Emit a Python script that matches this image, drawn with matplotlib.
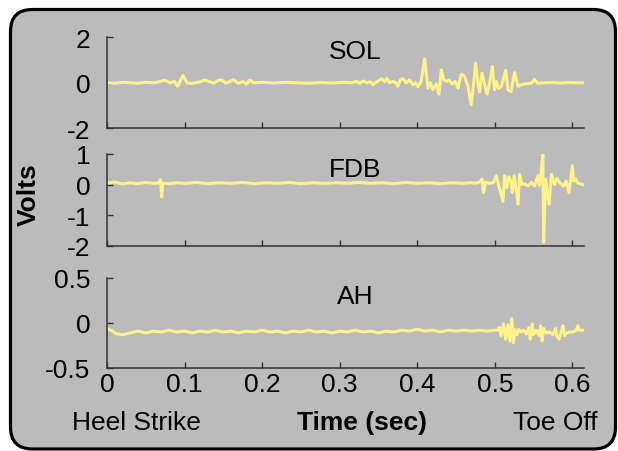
import matplotlib
matplotlib.use("Agg")
import matplotlib.pyplot as plt
from matplotlib.patches import FancyBboxPatch
from matplotlib.transforms import IdentityTransform

plt.rcParams['font.family'] = ['Liberation Sans', 'DejaVu Sans']

# ---------------- data ----------------
sol_time = [0, 0.01, 0.02, 0.03, 0.04, 0.05, 0.06, 0.068, 0.0745, 0.081,
            0.087, 0.091, 0.098, 0.103, 0.109, 0.119, 0.126, 0.1325, 0.138, 0.143,
            0.148, 0.153, 0.158, 0.163, 0.169, 0.175, 0.180, 0.184, 0.189, 0.2,
            0.215, 0.23, 0.245, 0.26, 0.275, 0.29, 0.305, 0.315, 0.322, 0.326,
            0.33, 0.335, 0.34, 0.343, 0.348, 0.354, 0.358, 0.361, 0.364, 0.368,
            0.372, 0.375, 0.3785, 0.3816, 0.386, 0.390, 0.3945, 0.398, 0.401, 0.405,
            0.4095, 0.4138, 0.417, 0.420, 0.4246, 0.428, 0.431, 0.434, 0.4375, 0.441,
            0.445, 0.449, 0.4525, 0.4568, 0.461, 0.4654, 0.4697, 0.4725, 0.4753, 0.4782,
            0.4804, 0.4835, 0.487, 0.490, 0.4933, 0.4968, 0.4997, 0.502, 0.505, 0.5084,
            0.514, 0.517, 0.521, 0.5255, 0.530, 0.534, 0.538, 0.545, 0.548, 0.551,
            0.555, 0.565, 0.575, 0.585, 0.595, 0.605, 0.615]
sol_volts = [0.0, -0.02, 0.02, 0.0, -0.02, 0.02, 0.0, 0.05, 0.12, 0.0,
             0.06, -0.15, 0.32, 0.0, -0.03, 0.03, 0.12, 0.05, -0.02, 0.10,
             0.12, -0.02, 0.05, 0.14, -0.02, 0.05, -0.06, 0.12, 0.0, 0.02,
             -0.01, 0.02, 0.0, -0.02, 0.01, -0.01, 0.02, 0.0, 0.06, -0.02,
             0.08, 0.0, 0.04, -0.08, 0.05, 0.18, 0.05, 0.20, 0.0, 0.06,
             0.02, -0.15, 0.15, 0.18, 0.0, 0.13, -0.09, 0.0, -0.16, 0.06,
             1.05, -0.23, 0.0, -0.30, -0.05, -0.50, 0.57, 0.15, 0.06, 0.12,
             -0.05, 0.06, -0.23, 0.38, 0.28, -0.16, -0.97, -0.09, 0.85, 0.0,
             -0.40, 0.43, -0.09, -0.50, 0.0, 0.72, -0.30, 0.06, -0.23, -0.16,
             0.55, -0.31, -0.38, 0.45, -0.16, -0.09, -0.05, -0.03, 0.0, 0.15,
             -0.02, 0.0, 0.01, -0.01, 0.01, 0.0, 0.0]

fdb_time = [0, 0.01, 0.02, 0.03, 0.04, 0.05, 0.06, 0.066, 0.069, 0.0705,
            0.072, 0.08, 0.09, 0.10, 0.115, 0.13, 0.145, 0.16, 0.175, 0.19,
            0.205, 0.22, 0.235, 0.25, 0.265, 0.28, 0.295, 0.31, 0.325, 0.34,
            0.355, 0.37, 0.385, 0.40, 0.415, 0.43, 0.445, 0.46, 0.4675, 0.475,
            0.480, 0.4835, 0.4855, 0.488, 0.493, 0.498, 0.502, 0.505, 0.5105, 0.5126,
            0.5155, 0.518, 0.521, 0.5225, 0.525, 0.530, 0.532, 0.535, 0.5384, 0.5427,
            0.547, 0.5513, 0.5556, 0.5577, 0.560, 0.562, 0.563, 0.5655, 0.570, 0.573,
            0.577, 0.580, 0.5836, 0.5887, 0.592, 0.5955, 0.600, 0.6015, 0.604, 0.607,
            0.6135]
fdb_volts = [0.05, 0.08, 0.02, 0.06, 0.03, 0.07, 0.04, 0.05, 0.16, -0.40,
             0.05, 0.03, 0.06, 0.04, 0.07, 0.03, 0.06, 0.04, 0.07, 0.03,
             0.06, 0.04, 0.07, 0.03, 0.06, 0.04, 0.06, 0.04, 0.07, 0.04,
             0.06, 0.03, 0.07, 0.04, 0.06, 0.03, 0.06, 0.04, 0.06, 0.05,
             0.07, 0.18, -0.26, 0.08, 0.04, 0.06, 0.29, -0.03, -0.55, 0.29,
             -0.10, 0.25, 0.10, -0.26, 0.29, -0.64, 0.34, 0.0, 0.02, -0.05,
             0.07, -0.05, 0.29, -0.03, 0.51, 1.00, -1.89, 0.18, -0.64, 0.34,
             0.0, 0.20, 0.07, -0.05, 0.12, -0.26, 0.62, 0.12, 0.20, 0.05,
             0.0]

ah_time = [0, 0.005, 0.012, 0.02, 0.03, 0.04, 0.05, 0.06, 0.07, 0.08,
           0.09, 0.10, 0.11, 0.12, 0.13, 0.14, 0.15, 0.16, 0.17, 0.18,
           0.19, 0.20, 0.21, 0.22, 0.23, 0.24, 0.25, 0.26, 0.27, 0.28,
           0.29, 0.30, 0.31, 0.32, 0.33, 0.34, 0.35, 0.36, 0.37, 0.38,
           0.39, 0.40, 0.41, 0.42, 0.43, 0.44, 0.45, 0.46, 0.47, 0.48,
           0.49, 0.50, 0.504, 0.506, 0.508, 0.511, 0.514, 0.517, 0.5195, 0.522,
           0.524, 0.526, 0.5285, 0.531, 0.534, 0.537, 0.5406, 0.544, 0.5455, 0.5483,
           0.5497, 0.5535, 0.557, 0.559, 0.561, 0.563, 0.5664, 0.5706, 0.575, 0.5784,
           0.5798, 0.5827, 0.5856, 0.5878, 0.590, 0.593, 0.5964, 0.6015, 0.605, 0.607,
           0.609, 0.6135]
ah_volts = [-0.06, -0.08, -0.12, -0.13, -0.11, -0.09, -0.11, -0.09, -0.10, -0.08,
            -0.10, -0.09, -0.11, -0.09, -0.10, -0.08, -0.10, -0.09, -0.11, -0.09,
            -0.10, -0.08, -0.10, -0.09, -0.11, -0.09, -0.10, -0.08, -0.10, -0.09,
            -0.11, -0.09, -0.10, -0.08, -0.10, -0.09, -0.11, -0.09, -0.10, -0.08,
            -0.09, -0.07, -0.09, -0.08, -0.10, -0.08, -0.09, -0.08, -0.09, -0.08,
            -0.09, -0.08, -0.08, -0.05, -0.14, -0.01, -0.18, -0.02, -0.20, 0.05,
            -0.22, -0.07, -0.13, -0.07, -0.10, -0.08, -0.12, -0.05, -0.18, -0.01,
            -0.13, -0.08, -0.14, -0.03, -0.20, -0.06, -0.11, -0.10, -0.13, -0.06,
            -0.14, -0.18, -0.10, -0.03, -0.14, -0.11, -0.10, -0.10, -0.08, -0.03,
            -0.08, -0.08]

muscles = ["SOL", "FDB", "AH"]
y_limits = [(-2, 2), (-2, 1), (-0.5, 0.5)]
y_ticks = [[-2, 0, 2], [-2, -1, 0, 1], [-0.5, 0, 0.5]]
y_ticklabels = [["-2", "0", "2"], ["-2", "-1", "0", "1"], ["-0.5", "0", "0.5"]]
x_ticks = [0, 0.1, 0.2, 0.3, 0.4, 0.5, 0.6]
x_ticklabels = ["0", "0.1", "0.2", "0.3", "0.4", "0.5", "0.6"]
series = [(sol_time, sol_volts), (fdb_time, fdb_volts), (ah_time, ah_volts)]

# ---------------- style ----------------
W, H = 618, 452
DPI = 100
FS = 19
LINE_COLOR = "#fff28a"
BG = "#bbbbbb"
SPINE = "#333333"

fig = plt.figure(figsize=(W / DPI, H / DPI), dpi=DPI)
fig.patch.set_facecolor("white")

# rounded grey panel (in pixel coordinates)
panel = FancyBboxPatch((10.5, 2.0), 605.0, 439.5,
                       boxstyle="round,pad=0,rounding_size=22",
                       transform=IdentityTransform(),
                       facecolor=BG, edgecolor="black", linewidth=2.3, zorder=-5)
fig.add_artist(panel)

left = 107 / W
width = (584 - 107) / W
# (top_px, bottom_px) for each panel
rows = [(38.3, 129.3), (155.0, 246.7), (279.0, 369.0)]
title_y = [0.85, 0.84, 0.80]

for i, (name, (tt, vv)) in enumerate(zip(muscles, series)):
    top_px, bot_px = rows[i]
    ax = fig.add_axes([left, 1 - bot_px / H, width, (bot_px - top_px) / H])
    ax.set_facecolor("none")
    ax.plot(tt, vv, color=LINE_COLOR, lw=2.2, solid_joinstyle="round")
    ax.set_xlim(0, 0.615)
    ax.set_ylim(*y_limits[i])
    ax.set_yticks(y_ticks[i])
    ax.set_yticklabels(y_ticklabels[i])
    ax.set_xticks(x_ticks)
    if i == 2:
        ax.set_xticklabels(x_ticklabels)
    else:
        ax.set_xticklabels([])
    for s in ("top", "right"):
        ax.spines[s].set_visible(False)
    for s in ("left", "bottom"):
        ax.spines[s].set_color(SPINE)
        ax.spines[s].set_linewidth(1.1)
    ax.tick_params(direction="in", length=4, width=1.0, color=SPINE,
                   labelsize=FS, labelcolor="black")
    ax.tick_params(axis="y", pad=12)
    ax.tick_params(axis="x", pad=3)
    ax.text(0.52, title_y[i], name, transform=ax.transAxes, ha="center",
            va="center", fontsize=FS, color="black")

fig.text(0.047, 0.569, "Volts", rotation=90, ha="center", va="center",
         fontsize=FS, fontweight="bold")
fig.text(0.220, 1 - 430 / H, "Heel Strike", ha="center", va="baseline", fontsize=FS)
fig.text(0.586, 1 - 430 / H, "Time (sec)", ha="center", va="baseline",
         fontsize=FS, fontweight="bold")
fig.text(0.898, 1 - 430 / H, "Toe Off", ha="center", va="baseline", fontsize=FS)

fig.savefig("out.png", dpi=DPI)
